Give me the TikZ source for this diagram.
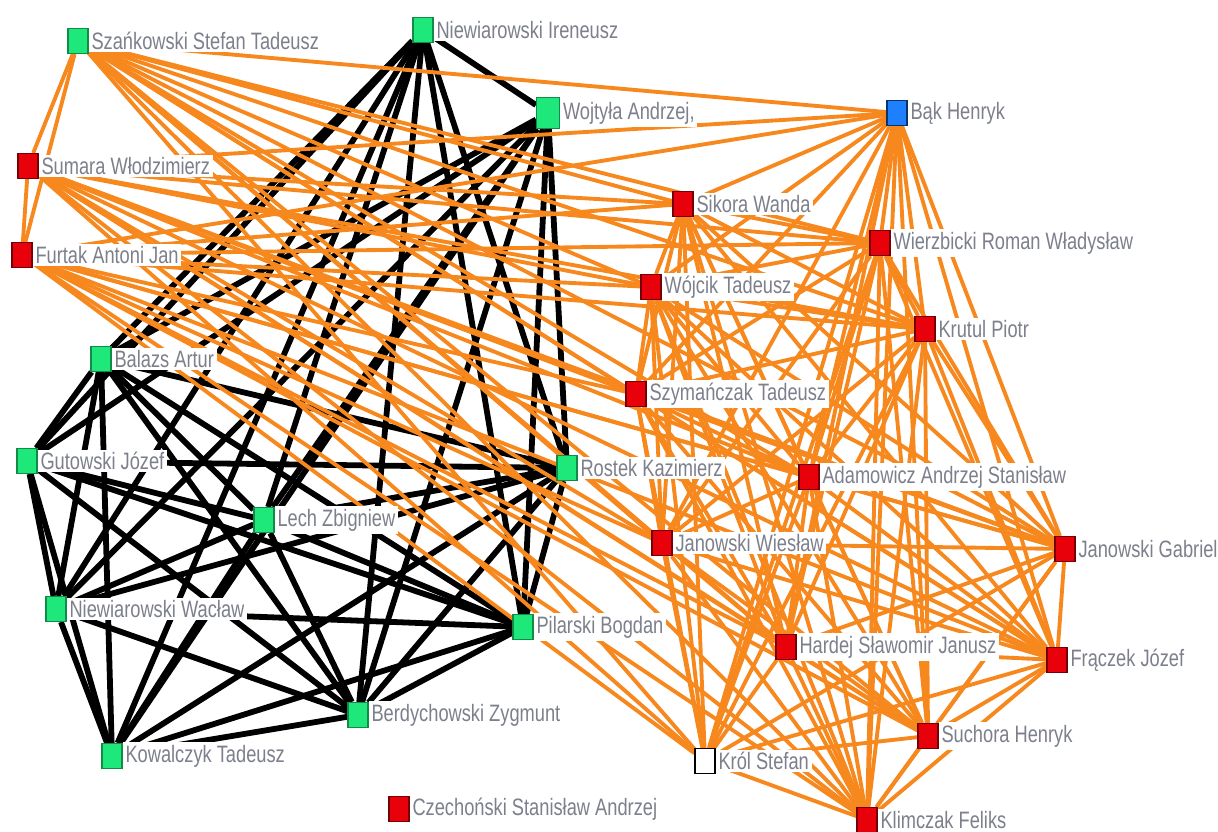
\documentclass[tikz,border=0pt]{standalone}
\usepackage{fontspec}
\setsansfont[FakeStretch=0.77]{Liberation Sans}
\usetikzlibrary{positioning}
\definecolor{nodegreen}{RGB}{30,232,122}
\definecolor{nodered}{RGB}{232,0,10}
\definecolor{nodeblue}{RGB}{30,127,255}
\definecolor{edgeorange}{RGB}{247,136,30}
\definecolor{labelgray}{RGB}{125,128,140}
\pgfdeclarelayer{edges}
\pgfsetlayers{edges,main}
\tikzset{
  sq/.style={rectangle, draw=black!80, line width=0.6pt, minimum width=0.4cm, minimum height=0.5cm, inner sep=0pt},
  greensq/.style={sq, fill=nodegreen, draw=nodegreen!60!black},
  redsq/.style={sq, fill=nodered, draw=nodered!50!black},
  bluesq/.style={sq, fill=nodeblue, draw=nodeblue!40!black},
  whitesq/.style={sq, fill=white, draw=black},
  lbl/.style={fill=white, inner sep=1.5pt, text=labelgray, font=\sffamily\fontsize{13.5}{14}\selectfont},
  blackedge/.style={black, line width=3.3pt},
  orangeedge/.style={edgeorange, line width=2.2pt},
}
\begin{document}
\begin{tikzpicture}[x=0.02cm, y=-0.02cm]
\useasboundingbox (0,0) rectangle (1218,832);

% wierzcholki - grupa zielona
\node[greensq] (niwi) at (423,30) {};
\node[greensq, minimum width=0.46cm, minimum height=0.62cm] (wojt) at (548,113) {};
\node[greensq] (szan) at (78,41) {};
\node[greensq] (bal) at (101,359) {};
\node[greensq] (gut) at (27,461) {};
\node[greensq] (rost) at (567,468) {};
\node[greensq] (lech) at (264,520) {};
\node[greensq] (niww) at (56,609) {};
\node[greensq] (pil) at (523,627) {};
\node[greensq] (berd) at (358,715) {};
\node[greensq] (kow) at (112,756) {};

% wierzcholki - grupa czerwona
\node[bluesq] (bak) at (897,113) {};
\node[redsq] (sum) at (28,166) {};
\node[redsq] (furt) at (22,255) {};
\node[redsq] (sik) at (683,204) {};
\node[redsq] (wierz) at (880,243) {};
\node[redsq] (wojc) at (651,287) {};
\node[redsq] (krut) at (925,329) {};
\node[redsq] (szym) at (636,394) {};
\node[redsq] (adam) at (809,477) {};
\node[redsq] (janw) at (662,543) {};
\node[redsq] (jang) at (1065,549) {};
\node[redsq] (hard) at (786,647) {};
\node[redsq] (fracz) at (1057,660) {};
\node[redsq] (such) at (928,736) {};
\node[whitesq] (krol) at (705,761) {};
\node[redsq] (czech) at (399,809) {};
\node[redsq] (klim) at (867,820) {};

% krawedzie
\begin{pgfonlayer}{edges}
\foreach \a [count=\i] in {niwi,wojt,bal,gut,rost,lech,niww,pil,berd,kow}{
  \foreach \b [count=\j] in {niwi,wojt,bal,gut,rost,lech,niww,pil,berd,kow}{
    \ifnum\j>\i \draw[blackedge] (\a) -- (\b); \fi
  }
}
\foreach \a [count=\i] in {szan,sum,furt,bak,sik,wierz,wojc,krut,szym,adam,janw,jang,hard,fracz,such,krol,klim}{
  \foreach \b [count=\j] in {szan,sum,furt,bak,sik,wierz,wojc,krut,szym,adam,janw,jang,hard,fracz,such,krol,klim}{
    \ifnum\j>\i \draw[orangeedge] (\a) -- (\b); \fi
  }
}
\end{pgfonlayer}

% podpisy
\node[lbl, right=0pt of szan] (szan-l) {Szańkowski Stefan Tadeusz};
\node[lbl, right=0pt of niwi] (niwi-l) {Niewiarowski Ireneusz};
\node[lbl, right=0pt of wojt] (wojt-l) {Wojtyła Andrzej,};
\node[lbl, right=0pt of bak] (bak-l) {Bąk Henryk};
\node[lbl, right=0pt of sum] (sum-l) {Sumara Włodzimierz};
\node[lbl, right=0pt of furt] (furt-l) {Furtak Antoni Jan};
\node[lbl, right=0pt of sik] (sik-l) {Sikora Wanda};
\node[lbl, right=0pt of wierz] (wierz-l) {Wierzbicki Roman Władysław};
\node[lbl, right=0pt of wojc] (wojc-l) {Wójcik Tadeusz};
\node[lbl, right=0pt of krut] (krut-l) {Krutul Piotr};
\node[lbl, right=0pt of bal] (bal-l) {Balazs Artur};
\node[lbl, right=0pt of szym] (szym-l) {Szymańczak Tadeusz};
\node[lbl, right=0pt of gut] (gut-l) {Gutowski Józef};
\node[lbl, right=0pt of rost] (rost-l) {Rostek Kazimierz};
\node[lbl, right=0pt of adam] (adam-l) {Adamowicz Andrzej Stanisław};
\node[lbl, right=0pt of lech] (lech-l) {Lech Zbigniew};
\node[lbl, right=0pt of janw] (janw-l) {Janowski Wiesław};
\node[lbl, right=0pt of jang] (jang-l) {Janowski Gabriel};
\node[lbl, right=0pt of niww] (niww-l) {Niewiarowski Wacław};
\node[lbl, right=0pt of pil] (pil-l) {Pilarski Bogdan};
\node[lbl, right=0pt of hard] (hard-l) {Hardej Sławomir Janusz};
\node[lbl, right=0pt of fracz] (fracz-l) {Frączek Józef};
\node[lbl, right=0pt of berd] (berd-l) {Berdychowski Zygmunt};
\node[lbl, right=0pt of kow] (kow-l) {Kowalczyk Tadeusz};
\node[lbl, right=0pt of such] (such-l) {Suchora Henryk};
\node[lbl, right=0pt of krol] (krol-l) {Król Stefan};
\node[lbl, right=0pt of czech] (czech-l) {Czechoński Stanisław Andrzej};
\node[lbl, right=0pt of klim] (klim-l) {Klimczak Feliks};

\end{tikzpicture}
\end{document}
